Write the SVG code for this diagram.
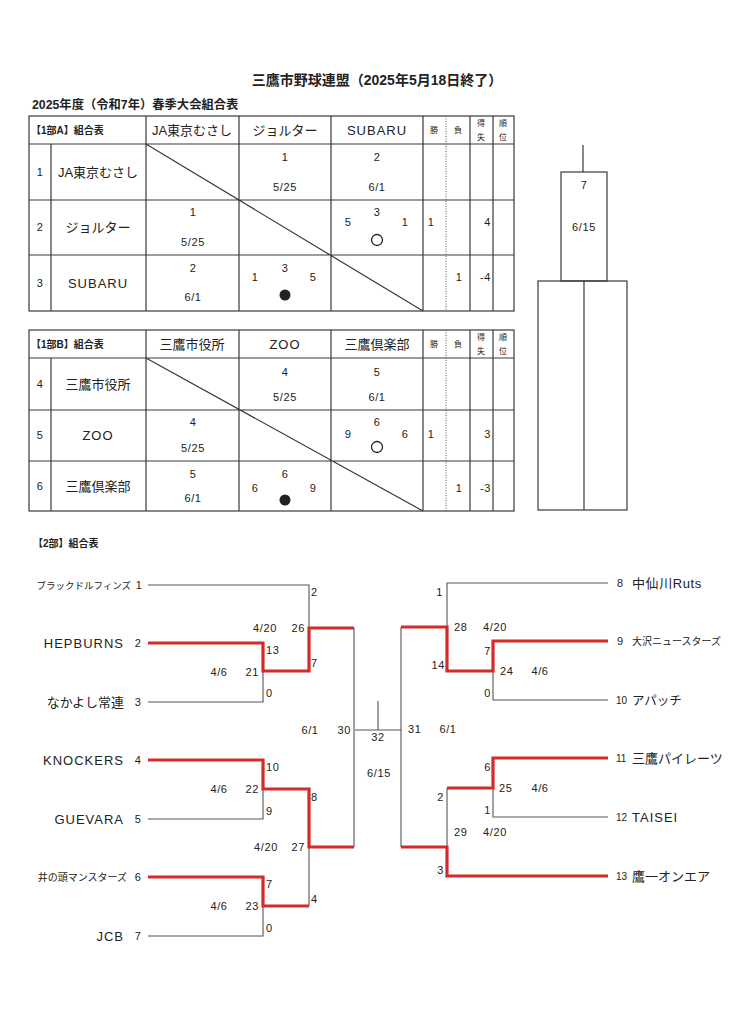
<svg xmlns="http://www.w3.org/2000/svg" width="738" height="1024" viewBox="0 0 738 1024">
<style>
text { font-family: "Liberation Sans", "Noto Sans CJK JP", sans-serif; fill: #222; }
.b { font-weight: bold; }
.n { font-size: 11px; letter-spacing: 0.6px; }
.m { text-anchor: middle; }
.e { text-anchor: end; }
.nm { font-size: 13px; }
.lat { letter-spacing: 1px; }
.hd { font-size: 13px; text-anchor: middle; }
.sm { font-size: 8px; text-anchor: middle; }
.grid { stroke: #3a3a3a; stroke-width: 1.2; fill: none; }
.dot { stroke: #555; stroke-width: 1; stroke-dasharray: 1 1.5; fill: none; }
.ln { stroke: #555; stroke-width: 1.1; fill: none; }
.red { stroke: #d42a2a; stroke-width: 3.2; fill: none; stroke-linejoin: miter; }
</style>
<rect width="738" height="1024" fill="#fff"/>

<g id="titles">
<text class="b" x="377" y="85" font-size="14" text-anchor="middle">三鷹市野球連盟（2025年5月18日終了）</text>
<text class="b" x="32" y="109" font-size="12.3">2025年度（令和7年）春季大会組合表</text>
</g>

<g id="tableA">
<rect class="grid" x="29" y="116" width="485" height="195"/>
<path class="grid" d="M29,144 H514 M29,200 H514 M29,255 H514 M51,144 V311 M146,116 V311 M239,116 V311 M331,116 V311 M423,116 V311 M470,116 V311 M493,116 V311 M146,144 L423,311"/>
<path class="dot" d="M446,116 V311"/>
<text class="b" x="31" y="134" font-size="10">【1部A】組合表</text>
<text class="hd" x="192" y="135">JA東京むさし</text>
<text class="hd" x="285" y="135">ジョルター</text>
<text class="hd lat" x="377" y="135">SUBARU</text>
<text class="sm" x="434" y="133">勝</text>
<text class="sm" x="458" y="133">負</text>
<text class="sm" x="481" y="126">得</text>
<text class="sm" x="481" y="140">失</text>
<text class="sm" x="503" y="126">順</text>
<text class="sm" x="503" y="140">位</text>
<text class="n m" x="40" y="176">1</text>
<text class="n m" x="40" y="231">2</text>
<text class="n m" x="40" y="287">3</text>
<text class="nm m" x="98" y="177">JA東京むさし</text>
<text class="nm m" x="98" y="232">ジョルター</text>
<text class="nm m lat" x="98" y="288">SUBARU</text>
<text class="n m" x="285" y="161">1</text>
<text class="n m" x="285" y="191">5/25</text>
<text class="n m" x="377" y="161">2</text>
<text class="n m" x="377" y="191">6/1</text>
<text class="n m" x="193" y="216">1</text>
<text class="n m" x="193" y="246">5/25</text>
<text class="n m" x="377" y="216">3</text>
<text class="n m" x="348" y="226">5</text>
<text class="n m" x="405" y="226">1</text>
<circle cx="377" cy="240" r="5.5" fill="none" stroke="#222" stroke-width="1.3"/>
<text class="n m" x="431" y="226">1</text>
<text class="n e" x="491" y="226">4</text>
<text class="n m" x="193" y="272">2</text>
<text class="n m" x="193" y="301">6/1</text>
<text class="n m" x="285" y="272">3</text>
<text class="n m" x="255" y="281">1</text>
<text class="n m" x="313" y="281">5</text>
<circle cx="285" cy="295" r="5.5" fill="#222"/>
<text class="n m" x="459" y="281">1</text>
<text class="n e" x="491" y="281">-4</text>
</g>

<g id="tableB">
<rect class="grid" x="29" y="330" width="485" height="181"/>
<path class="grid" d="M29,358 H514 M29,410 H514 M29,461 H514 M51,358 V511 M146,330 V511 M239,330 V511 M331,330 V511 M423,330 V511 M470,330 V511 M493,330 V511 M146,358 L423,511"/>
<path class="dot" d="M446,330 V511"/>
<text class="b" x="31" y="348" font-size="10">【1部B】組合表</text>
<text class="hd" x="192" y="349">三鷹市役所</text>
<text class="hd lat" x="285" y="349">ZOO</text>
<text class="hd" x="377" y="349">三鷹倶楽部</text>
<text class="sm" x="434" y="347">勝</text>
<text class="sm" x="458" y="347">負</text>
<text class="sm" x="481" y="340">得</text>
<text class="sm" x="481" y="354">失</text>
<text class="sm" x="503" y="340">順</text>
<text class="sm" x="503" y="354">位</text>
<text class="n m" x="40" y="388">4</text>
<text class="n m" x="40" y="439">5</text>
<text class="n m" x="40" y="490">6</text>
<text class="nm m" x="98" y="389">三鷹市役所</text>
<text class="nm m lat" x="98" y="440">ZOO</text>
<text class="nm m" x="98" y="491">三鷹倶楽部</text>
<text class="n m" x="285" y="376">4</text>
<text class="n m" x="285" y="401">5/25</text>
<text class="n m" x="377" y="376">5</text>
<text class="n m" x="377" y="401">6/1</text>
<text class="n m" x="193" y="426">4</text>
<text class="n m" x="193" y="452">5/25</text>
<text class="n m" x="377" y="426">6</text>
<text class="n m" x="348" y="438">9</text>
<text class="n m" x="405" y="438">6</text>
<circle cx="377" cy="447" r="5.5" fill="none" stroke="#222" stroke-width="1.3"/>
<text class="n m" x="431" y="438">1</text>
<text class="n e" x="491" y="438">3</text>
<text class="n m" x="193" y="478">5</text>
<text class="n m" x="193" y="502">6/1</text>
<text class="n m" x="285" y="478">6</text>
<text class="n m" x="255" y="492">6</text>
<text class="n m" x="313" y="492">9</text>
<circle cx="285" cy="500" r="5.5" fill="#222"/>
<text class="n m" x="459" y="492">1</text>
<text class="n e" x="491" y="492">-3</text>
</g>

<g id="tower">
<path class="grid" d="M583,145 V172"/>
<rect class="grid" x="561" y="172" width="46" height="109"/>
<rect class="grid" x="538" y="281" width="89" height="229"/>
<path class="grid" d="M584,281 V510"/>
<text class="n m" x="584" y="189">7</text>
<text class="n m" x="584" y="231">6/15</text>
</g>

<text class="b" x="33" y="547" font-size="10">【2部】組合表</text>

<g id="connectors">
<path class="ln" d="M148,585 H309 V628 M148,702 H263 V671 M148,819 H263 V789 M148,936 H263 V906 M309,906 V847 M354,628 V847 M355,730 H401 M378,701 V730 M401,627 V847 M608,583 H447 V627 M608,700 H493 V671 M608,817 H493 V788 M447,788 V847"/>
<path class="red" d="M148,643 H263 V671 H309 V628 H354"/>
<path class="red" d="M148,760 H263 V789 H309 V847 H354"/>
<path class="red" d="M148,877 H263 V906 H309"/>
<path class="red" d="M608,641 H493 V671 H447 V627 H401"/>
<path class="red" d="M608,758 H493 V788 H447"/>
<path class="red" d="M608,876 H447 V847 H401"/>
</g>

<g id="scores">
<text class="n" x="311" y="596">2</text>
<text class="n m" x="265" y="632">4/20</text>
<text class="n e" x="305" y="632">26</text>
<text class="n" x="266" y="654">13</text>
<text class="n" x="311" y="667">7</text>
<text class="n m" x="219" y="676">4/6</text>
<text class="n e" x="259" y="676">21</text>
<text class="n" x="266" y="697">0</text>
<text class="n m" x="310" y="734">6/1</text>
<text class="n e" x="351" y="734">30</text>
<text class="n" x="266" y="771">10</text>
<text class="n m" x="219" y="793">4/6</text>
<text class="n e" x="259" y="793">22</text>
<text class="n" x="311" y="801">8</text>
<text class="n" x="266" y="815">9</text>
<text class="n m" x="266" y="851">4/20</text>
<text class="n e" x="305" y="851">27</text>
<text class="n" x="266" y="888">7</text>
<text class="n" x="311" y="903">4</text>
<text class="n m" x="219" y="910">4/6</text>
<text class="n e" x="259" y="910">23</text>
<text class="n" x="266" y="932">0</text>
<text class="n m" x="378" y="741">32</text>
<text class="n m" x="379" y="777">6/15</text>
<text class="n" x="408" y="733">31</text>
<text class="n m" x="448" y="733">6/1</text>
<text class="n e" x="443" y="596">1</text>
<text class="n" x="454" y="631">28</text>
<text class="n m" x="495" y="631">4/20</text>
<text class="n e" x="491" y="655">7</text>
<text class="n e" x="445" y="669">14</text>
<text class="n" x="500" y="675">24</text>
<text class="n m" x="540" y="675">4/6</text>
<text class="n e" x="491" y="697">0</text>
<text class="n e" x="491" y="771">6</text>
<text class="n" x="499" y="792">25</text>
<text class="n m" x="540" y="792">4/6</text>
<text class="n e" x="444" y="801">2</text>
<text class="n e" x="491" y="814">1</text>
<text class="n" x="454" y="836">29</text>
<text class="n m" x="495" y="836">4/20</text>
<text class="n e" x="444" y="874">3</text>
</g>

<g id="team1"><text class="e" x="131" y="589" font-size="9.5">ブラックドルフィンズ</text><text class="n m" x="139" y="589">1</text></g>
<g id="team2"><text class="e lat" x="124" y="648" font-size="13">HEPBURNS</text><text class="n m" x="138" y="647">2</text></g>
<g id="team3"><text class="e" x="124" y="707" font-size="13">なかよし常連</text><text class="n m" x="138" y="706">3</text></g>
<g id="team4"><text class="e lat" x="124" y="765" font-size="13">KNOCKERS</text><text class="n m" x="138" y="764">4</text></g>
<g id="team5"><text class="e lat" x="124" y="824" font-size="13">GUEVARA</text><text class="n m" x="138" y="823">5</text></g>
<g id="team6"><text class="e" x="127" y="881" font-size="10">井の頭マンスターズ</text><text class="n m" x="138" y="881">6</text></g>
<g id="team7"><text class="e lat" x="124" y="941" font-size="13">JCB</text><text class="n m" x="138" y="940">7</text></g>
<g id="team8"><text class="n" x="617" y="587">8</text><text x="632" y="588" font-size="13" letter-spacing="0.6">中仙川Ruts</text></g>
<g id="team9"><text class="n" x="617" y="645">9</text><text x="632" y="645" font-size="10">大沢ニュースターズ</text></g>
<g id="team10"><text x="616" y="704" font-size="10">10</text><text x="632" y="705" font-size="12.5">アパッチ</text></g>
<g id="team11"><text x="616" y="762" font-size="10">11</text><text x="632" y="763" font-size="13">三鷹パイレーツ</text></g>
<g id="team12"><text x="616" y="821" font-size="10">12</text><text class="lat" x="632" y="822" font-size="13">TAISEI</text></g>
<g id="team13"><text x="616" y="880" font-size="10">13</text><text x="632" y="881" font-size="13">鷹一オンエア</text></g>
</svg>
